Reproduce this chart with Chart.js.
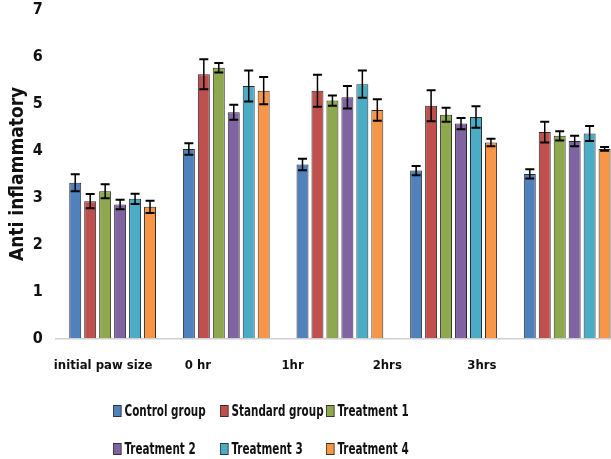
<!DOCTYPE html>
<html>
  <head>
    <meta charset="UTF-8" />
    <title>Anti inflammatory</title>
    <script src="https://cdn.jsdelivr.net/npm/chart.js"></script>
    <style>
      body {
        margin: 0;
        background: white;
        overflow: hidden;
        font-family: "DejaVu Sans Condensed", "DejaVu Sans", sans-serif;
      }
      #wrap {
        position: relative;
        width: 630px;
        height: 459px;
      }
      #legend {
        position: absolute;
        left: 0;
        top: 0;
        font-weight: bold;
        font-size: 15px;
        color: #111;
      }
      .item {
        position: absolute;
        display: flex;
        align-items: center;
        height: 20px;
        white-space: nowrap;
        transform-origin: left center;
        transform: scaleX(0.77);
      }
      .box {
        display: inline-block;
        flex-shrink: 0;
        width: 9px;
        height: 10px;
        border: 1px solid #333;
        margin-right: 4px;
      }
    </style>
  </head>
  <body>
    <div id="wrap">
      <canvas id="chart"></canvas>
      <div id="legend"></div>
    </div>

    <script>
      const categories = ["initial paw size", "0 hr", "1hr", "2hrs", "3hrs"];
      const seriesNames = ["Control group", "Standard group", "Treatment 1", "Treatment 2", "Treatment 3", "Treatment 4"];
      const colors = ["#4F81BD", "#C0504D", "#8EA84E", "#8064A2", "#4BACC6", "#F79646"];

      const control = [3.31, 4.03, 3.70, 3.57, 3.50];
      const standard = [2.92, 5.62, 5.27, 4.95, 4.39];
      const treat1 = [3.13, 5.76, 5.06, 4.76, 4.31];
      const treat2 = [2.85, 4.81, 5.13, 4.57, 4.20];
      const treat3 = [2.97, 5.37, 5.41, 4.71, 4.36];
      const treat4 = [2.80, 5.27, 4.86, 4.17, 4.03];

      const controlErr = [0.18, 0.12, 0.12, 0.10, 0.10];
      const standardErr = [0.15, 0.32, 0.34, 0.33, 0.22];
      const treat1Err = [0.15, 0.10, 0.11, 0.15, 0.10];
      const treat2Err = [0.10, 0.16, 0.24, 0.12, 0.11];
      const treat3Err = [0.11, 0.33, 0.29, 0.23, 0.16];
      const treat4Err = [0.13, 0.29, 0.23, 0.08, 0.04];

      const yTicks = [0, 1, 2, 3, 4, 5, 6, 7];

      const values = [control, standard, treat1, treat2, treat3, treat4];
      const errors = [controlErr, standardErr, treat1Err, treat2Err, treat3Err, treat4Err];

      const fontFam = "'DejaVu Sans Condensed', 'DejaVu Sans', sans-serif";

      // error bars drawn from the y scale
      const errorBars = {
        id: "errorBars",
        afterDatasetsDraw(chart) {
          const ctx = chart.ctx;
          const y = chart.scales.y;
          ctx.save();
          ctx.strokeStyle = "#000";
          chart.data.datasets.forEach((ds, i) => {
            const meta = chart.getDatasetMeta(i);
            meta.data.forEach((bar, j) => {
              const v = ds.data[j];
              const e = errors[i][j];
              const top = y.getPixelForValue(v + e);
              const bot = y.getPixelForValue(v - e);
              ctx.lineWidth = 1.5;
              ctx.beginPath();
              ctx.moveTo(bar.x, top);
              ctx.lineTo(bar.x, bot);
              ctx.stroke();
              ctx.lineWidth = 2;
              ctx.beginPath();
              ctx.moveTo(bar.x - 4.5, top);
              ctx.lineTo(bar.x + 4.5, top);
              ctx.moveTo(bar.x - 4.5, bot);
              ctx.lineTo(bar.x + 4.5, bot);
              ctx.stroke();
            });
          });
          ctx.restore();
        },
      };

      const chart = new Chart(document.getElementById("chart"), {
        type: "bar",
        data: {
          labels: categories,
          datasets: seriesNames.map((name, i) => ({
            label: name,
            data: values[i],
            backgroundColor: colors[i],
            borderColor: "#2b2b2b",
            borderWidth: 1,
            categoryPercentage: 0.79,
            barPercentage: 0.8,
          })),
        },
        options: {
          responsive: true,
          maintainAspectRatio: false,
          animation: false,
          layout: { padding: { top: 0, right: 6, bottom: 67, left: 1 } },
          plugins: {
            legend: { display: false },
            tooltip: { enabled: false },
          },
          scales: {
            x: {
              grid: { display: false, drawTicks: false },
              border: { color: "#d0d0d0", width: 1.5 },
              ticks: { display: false },
            },
            // category labels sit on their own axis, spaced like the picture
            xl: {
              type: "category",
              position: "bottom",
              labels: categories.concat([""]),
              offset: true,
              grid: { display: false, drawTicks: false },
              border: { display: false },
              ticks: {
                padding: 19,
                color: "#111",
                font: { family: fontFam, size: 13, weight: "bold" },
                maxRotation: 0,
                autoSkip: false,
              },
            },
            y: {
              min: 0,
              max: 7,
              afterBuildTicks: (axis) => {
                axis.ticks = yTicks.map((v) => ({ value: v }));
              },
              grid: {
                display: true,
                drawOnChartArea: false,
                drawTicks: true,
                tickLength: 10,
                color: "rgba(0,0,0,0)",
              },
              border: { display: false },
              ticks: {
                padding: 3,
                color: "#111",
                font: { family: fontFam, size: 16, weight: "bold", lineHeight: 0.8 },
              },
              title: {
                display: true,
                text: "Anti inflammatory",
                color: "#111",
                padding: { top: 6, bottom: 0 },
                font: { family: fontFam, size: 19, weight: "bold" },
              },
            },
          },
        },
        plugins: [errorBars],
      });

      // legend in three columns, as in the picture
      const legendCols = [113, 220, 326];
      const legendRows = [401, 439];
      const legend = document.getElementById("legend");
      seriesNames.forEach((name, i) => {
        const item = document.createElement("div");
        item.className = "item";
        item.style.left = legendCols[i % 3] + "px";
        item.style.top = legendRows[Math.floor(i / 3)] + "px";
        const box = document.createElement("span");
        box.className = "box";
        box.style.background = colors[i];
        const txt = document.createElement("span");
        txt.textContent = name;
        item.appendChild(box);
        item.appendChild(txt);
        legend.appendChild(item);
      });
    </script>
  </body>
</html>
